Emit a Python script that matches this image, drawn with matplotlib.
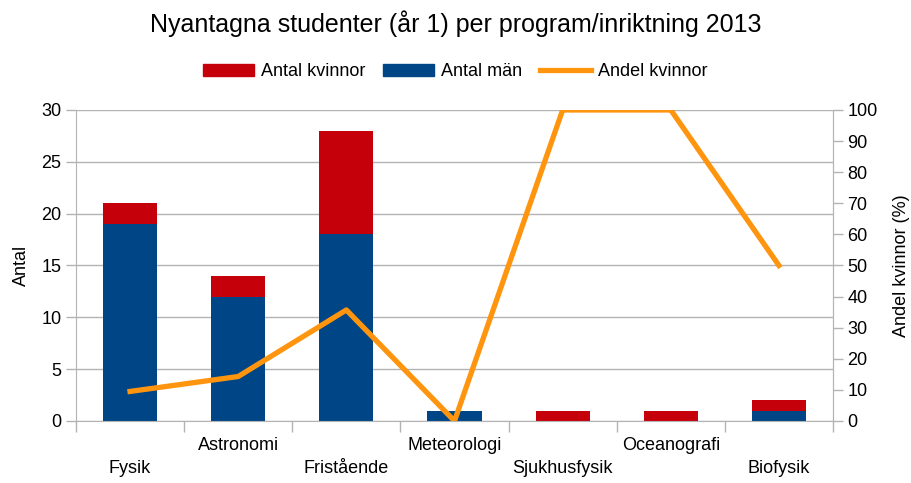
import matplotlib
matplotlib.use("Agg")
import matplotlib.pyplot as plt
import numpy as np
from matplotlib.patches import Patch
from matplotlib.lines import Line2D

plt.rcParams['font.family'] = ['Liberation Sans', 'DejaVu Sans']

categories = ["Fysik", "Astronomi", "Fristående", "Meteorologi", "Sjukhusfysik", "Oceanografi", "Biofysik"]
men = [19, 12, 18, 1, 0, 0, 1]
women = [2, 2, 10, 0, 1, 1, 1]
share_women = [9.5, 14.3, 35.7, 0, 100, 100, 50]

RED = "#c5000b"
BLUE = "#004586"
ORANGE = "#ff950e"
GRID = "#b3b3b3"

fig = plt.figure(figsize=(9.11, 4.83), dpi=100)
ax = fig.add_axes([0.0834, 0.1284, 0.831, 0.6439])
x = np.arange(len(categories))
ax.bar(x, men, width=0.5, color=BLUE, zorder=2)
ax.bar(x, women, width=0.5, bottom=men, color=RED, zorder=2)
ax.set_xlim(-0.5, len(categories) - 0.5)
ax.set_ylim(0, 30)
ax.set_yticks(range(0, 31, 5))
ax.grid(axis='y', color=GRID, linewidth=1)
ax.set_axisbelow(True)
ax.spines['top'].set_visible(False)
for s in ['left', 'bottom', 'right']:
    ax.spines[s].set_color(GRID)
ax.tick_params(axis='y', colors=GRID, labelcolor='black', labelsize=13, length=7, width=1)
ax.set_ylabel("Antal", fontsize=13, labelpad=8)

# category boundary ticks
ax.set_xticks(np.arange(-0.5, len(categories), 1.0))
ax.set_xticklabels([])
ax.tick_params(axis='x', colors=GRID, length=8, width=1)
# staggered labels
for i, c in enumerate(categories):
    off = -34.5 if i % 2 == 0 else -18
    ax.annotate(c, xy=(i, 0), xycoords=('data', 'axes fraction'), xytext=(0, off),
                textcoords='offset points', ha='center', va='center', fontsize=13)

ax2 = ax.twinx()
ax2.plot(x, share_women, color=ORANGE, linewidth=3.8, zorder=3)
ax2.set_ylim(0, 100)
ax2.set_yticks(range(0, 101, 10))
for s in ['top', 'left', 'bottom']:
    ax2.spines[s].set_visible(False)
ax2.spines['right'].set_color(GRID)
ax2.tick_params(axis='y', colors=GRID, labelcolor='black', labelsize=13, length=7, width=1)
ax2.set_ylabel("Andel kvinnor (%)", fontsize=13, labelpad=11)

fig.suptitle("Nyantagna studenter (år 1) per program/inriktning 2013", fontsize=18, y=0.978)

handles = [Patch(color=RED, label="Antal kvinnor"),
           Patch(color=BLUE, label="Antal män"),
           Line2D([0], [0], color=ORANGE, linewidth=3.8, label="Andel kvinnor")]
fig.legend(handles=handles, loc='center', bbox_to_anchor=(0.5, 0.851), ncol=3, frameon=False,
           fontsize=13, handlelength=2.8, handleheight=0.7, columnspacing=1.0, handletextpad=0.4)

fig.savefig("out.png", dpi=100)
